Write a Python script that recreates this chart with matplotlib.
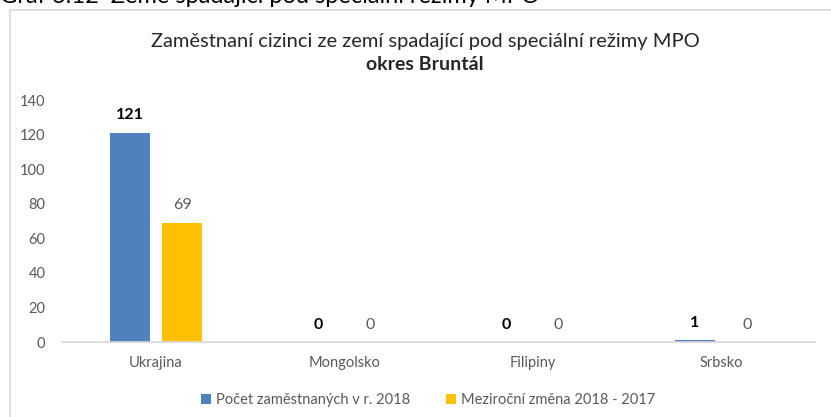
import matplotlib.pyplot as plt
from matplotlib.patches import Rectangle
import numpy as np

plt.rcParams['font.family'] = ['Lato', 'DejaVu Sans']

kategorie = ['Ukrajina', 'Mongolsko', 'Filipiny', 'Srbsko']
pocet_2018 = [121, 0, 0, 1]
zmena_2018_2017 = [69, 0, 0, 0]
y_ticks = [0, 20, 40, 60, 80, 100, 120, 140]

modra = '#4f81bd'
zluta = '#ffc000'
seda = '#595959'

fig = plt.figure(figsize=(8.31, 4.17), dpi=100)

# ramecek grafu
fig.patches.append(Rectangle((10 / 831, -0.05), 1.0, 1 - 10 / 417 + 0.05,
                             transform=fig.transFigure, fill=False,
                             edgecolor='#d9d9d9', linewidth=1.2))

# useknuty popisek nad grafem (v originalu je take oriznuty)
fig.text(0.0, 1.0 - 3 / 417, 'Graf 3.12  Země spadající pod speciální režimy MPO',
         fontsize=17, ha='left', va='baseline', color='black')

ax = fig.add_axes([62 / 831, 1 - 342 / 417, (815 - 62) / 831, (342 - 100) / 417])
x = np.arange(len(kategorie))
w = 0.213
b1 = ax.bar(x - 0.138, pocet_2018, w, color=modra, label='Počet zaměstnaných v r. 2018')
b2 = ax.bar(x + 0.138, zmena_2018_2017, w, color=zluta, label='Meziroční změna 2018 - 2017')

for xi, v in zip(x, pocet_2018):
    ax.text(xi - 0.138, v + 6, str(v), ha='center', va='bottom', fontsize=11.5,
            fontweight='bold', color='black')
for xi, v in zip(x, zmena_2018_2017):
    ax.text(xi + 0.138, v + 6, str(v), ha='center', va='bottom', fontsize=11.5,
            color=seda)

ax.set_xlim(-0.5, len(kategorie) - 0.5)
ax.set_ylim(0, 140)
ax.set_yticks(y_ticks)
ax.set_xticks(x)
ax.set_xticklabels(kategorie)
ax.tick_params(axis='both', length=0, labelsize=10.5, colors=seda)
ax.tick_params(axis='x', pad=10)
ax.tick_params(axis='y', pad=12)
for s in ['top', 'right', 'left']:
    ax.spines[s].set_visible(False)
ax.spines['bottom'].set_color('#d9d9d9')
ax.spines['bottom'].set_linewidth(1.2)

fig.text(425 / 831, 1 - 42 / 417, 'Zaměstnaní cizinci ze zemí spadající pod speciální režimy MPO',
         ha='center', va='center', fontsize=14.5, color='#262626')
fig.text(425 / 831, 1 - 64 / 417, 'okres Bruntál', ha='center', va='center',
         fontsize=14, fontweight='bold', color='#262626')

fig.legend(handles=[b1, b2], loc='center', bbox_to_anchor=(428 / 831, 1 - 400 / 417),
           ncol=2, frameon=False, fontsize=10.5, labelcolor=seda, handlelength=0.7,
           handleheight=0.7, handletextpad=0.3, columnspacing=2.5)

fig.savefig('out.png', dpi=100)
